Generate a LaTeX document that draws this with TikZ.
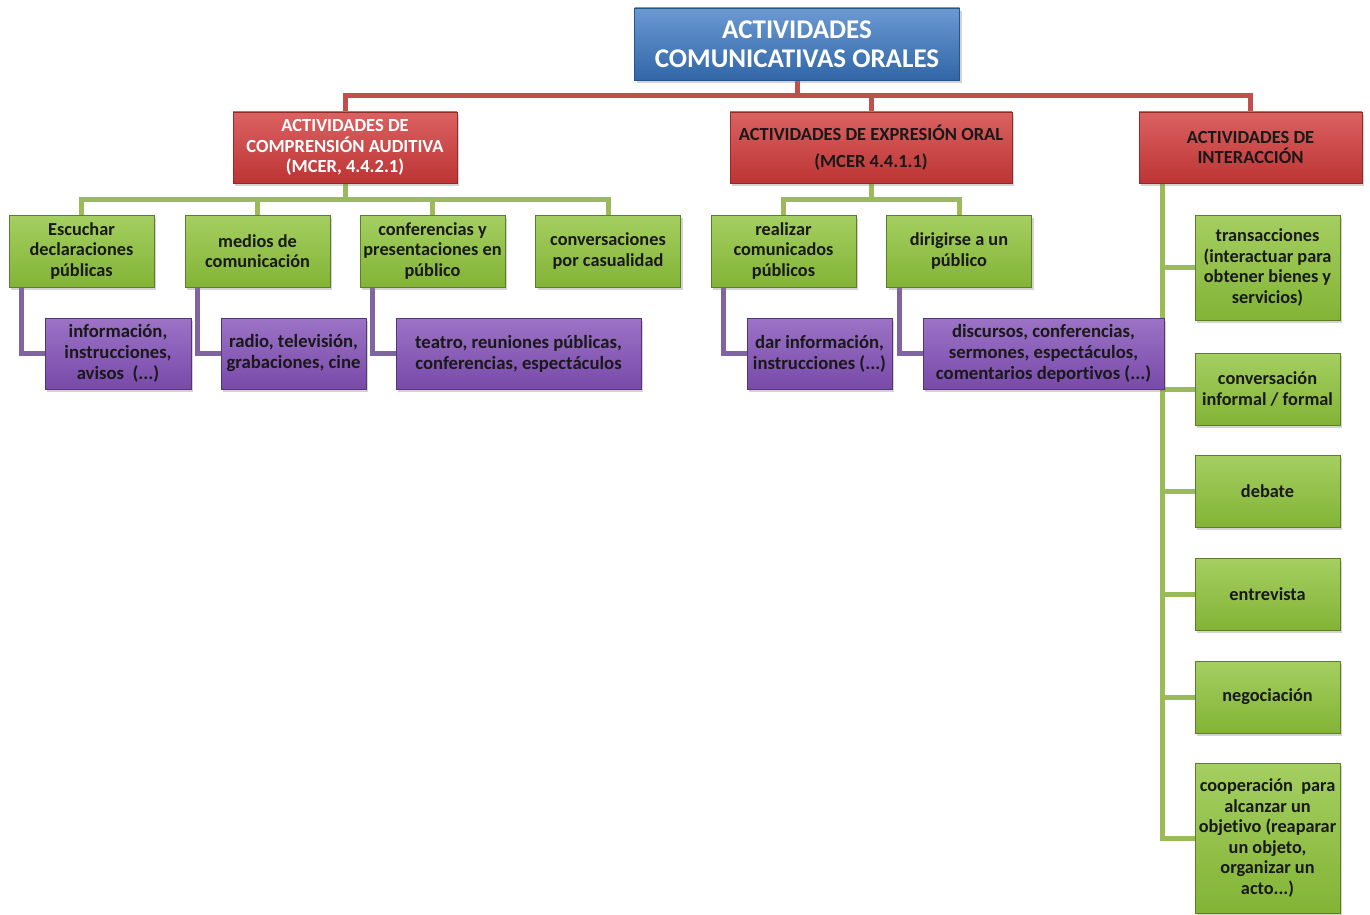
\documentclass[tikz,border=0pt]{standalone}
\usepackage{fontspec}
\setmainfont{Carlito}[Ligatures={NoCommon}]
\usetikzlibrary{shadows,backgrounds}
\definecolor{rootblue}{HTML}{3A78C4}
\definecolor{redbox}{HTML}{D23A3A}
\definecolor{greenbox}{HTML}{8EC33A}
\definecolor{purplebox}{HTML}{8350B8}
\definecolor{redline}{HTML}{C0504D}
\definecolor{greenline}{HTML}{9BBB59}
\definecolor{purpleline}{HTML}{8064A2}
\tikzset{
  box/.style={rectangle, align=center, inner sep=1pt, line width=0.8pt,
    drop shadow={opacity=0.35, shadow xshift=2pt, shadow yshift=-3pt}},
  rootbox/.style={box, top color=rootblue!75!white, bottom color=rootblue!85!black,
    draw=rootblue!70!black, text=white, minimum width=325pt, minimum height=72pt,
    font=\fontsize{27}{29}\selectfont\bfseries},
  areabox/.style={box, top color=redbox!80!white, bottom color=redbox!90!black,
    draw=redbox!70!black, text=black!90, minimum height=71pt,
    font=\fontsize{18.5}{20.5}\selectfont\bfseries},
  itembox/.style={box, top color=greenbox!80!white, bottom color=greenbox!92!black,
    draw=greenbox!65!black, text=black!90, minimum width=145pt, minimum height=72pt,
    font=\fontsize{18.3}{20.5}\selectfont\bfseries},
  notebox/.style={box, top color=purplebox!80!white, bottom color=purplebox!92!black,
    draw=purplebox!65!black, text=black!90, minimum height=71pt,
    font=\fontsize{18.7}{21}\selectfont\bfseries},
  redlink/.style={draw=redline, line width=5pt},
  greenlink/.style={draw=greenline, line width=5pt},
  purplelink/.style={draw=purpleline, line width=5pt},
}
\begin{document}
\begin{tikzpicture}[x=1pt, y=-1pt]
  \useasboundingbox (0,0) rectangle (1370,915);
  % connectors
  \coordinate (rootbar) at (797,96);
  \coordinate (compbar) at (345,199);
  \coordinate (exprbar) at (871,199);
  \coordinate (trunk) at (1162,183);
  % boxes
  \node[rootbox] (root) at (797,44) {ACTIVIDADES\\COMUNICATIVAS ORALES};
  \node[areabox, minimum width=224pt, text=white] (comp) at (345,147.5)
    {ACTIVIDADES DE\\COMPRENSIÓN AUDITIVA\\(MCER, 4.4.2.1)};
  \node[areabox, minimum width=282pt] (expr) at (871,147.5)
    {ACTIVIDADES DE EXPRESIÓN ORAL\\[7pt](MCER 4.4.1.1)};
  \node[areabox, minimum width=223pt] (inter) at (1250.5,147.5)
    {ACTIVIDADES DE\\INTERACCIÓN};

  \node[itembox] (escuchar) at (81.5,251) {Escuchar\\declaraciones\\públicas};
  \node[itembox] (medios) at (257.5,251) {medios de\\comunicación};
  \node[itembox] (confer) at (432.5,251) {conferencias y\\presentaciones en\\público};
  \node[itembox] (casual) at (608,251) {conversaciones\\por casualidad};
  \node[itembox] (comunic) at (783.5,251) {realizar\\comunicados\\públicos};
  \node[itembox] (dirigir) at (959,251) {dirigirse a un\\público};

  \node[notebox, minimum width=146pt] (avisos) at (118,353.5)
    {información,\\instrucciones,\\avisos\ \ (...)};
  \node[notebox, minimum width=145pt] (radio) at (293.5,353.5)
    {radio, televisión,\\grabaciones, cine};
  \node[notebox, minimum width=245pt] (teatro) at (518.5,353.5)
    {teatro, reuniones públicas,\\conferencias, espectáculos};
  \node[notebox, minimum width=145pt] (darinfo) at (819.5,353.5)
    {dar información,\\instrucciones (...)};
  \node[notebox, minimum width=241pt] (discursos) at (1043.5,353.5)
    {discursos, conferencias,\\sermones, espectáculos,\\comentarios deportivos (...)};

  \node[itembox, minimum height=105pt] (transac) at (1267.5,267.5)
    {transacciones\\(interactuar para\\obtener bienes y\\servicios)};
  \node[itembox] (convers) at (1267.5,389) {conversación\\informal / formal};
  \node[itembox] (debate) at (1267.5,491) {debate};
  \node[itembox] (entrev) at (1267.5,594) {entrevista};
  \node[itembox] (negoc) at (1267.5,697) {negociación};
  \node[itembox, minimum height=150pt] (coop) at (1267.5,838)
    {cooperación\ \ para\\alcanzar un\\objetivo (reaparar\\un objeto,\\organizar un\\acto...)};

  \begin{scope}[on background layer]
    \draw[redlink] (root.south) -- (rootbar);
    \draw[redlink] (comp.north) |- (rootbar) -| (inter.north);
    \draw[redlink] (rootbar) -| (expr.north);

    \draw[greenlink] (comp.south) -- (compbar);
    \draw[greenlink] (escuchar.north) |- (compbar) -| (casual.north);
    \draw[greenlink] (compbar) -| (medios.north);
    \draw[greenlink] (compbar) -| (confer.north);
    \draw[greenlink] (expr.south) -- (exprbar);
    \draw[greenlink] (comunic.north) |- (exprbar) -| (dirigir.north);

    \draw[purplelink] ([xshift=13pt]escuchar.south west) |- (avisos.west);
    \draw[purplelink] ([xshift=13pt]medios.south west) |- (radio.west);
    \draw[purplelink] ([xshift=13pt]confer.south west) |- (teatro.west);
    \draw[purplelink] ([xshift=13pt]comunic.south west) |- (darinfo.west);
    \draw[purplelink] ([xshift=13pt]dirigir.south west) |- (discursos.west);

    \draw[greenlink] (trunk) |- (coop.west);
    \draw[greenlink] (transac.west) -- (transac.west -| trunk);
    \draw[greenlink] (convers.west) -- (convers.west -| trunk);
    \draw[greenlink] (debate.west) -- (debate.west -| trunk);
    \draw[greenlink] (entrev.west) -- (entrev.west -| trunk);
    \draw[greenlink] (negoc.west) -- (negoc.west -| trunk);
  \end{scope}
\end{tikzpicture}
\end{document}
